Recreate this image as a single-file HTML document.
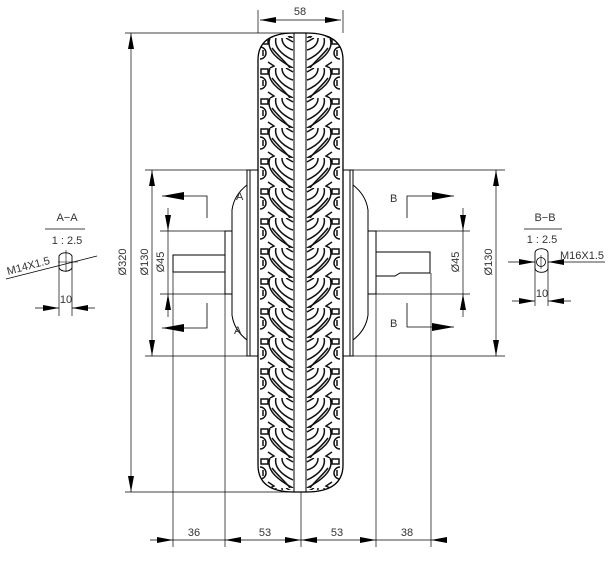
<!DOCTYPE html>
<html><head><style>body{margin:0;background:#fff}svg{display:block}text{font-family:"Liberation Sans Narrow","Liberation Sans",sans-serif;fill:#333;font-size:11px}</style></head>
<body>
<svg width="609" height="567" viewBox="0 0 609 567" xmlns="http://www.w3.org/2000/svg">
<defs>
<pattern id="tl" x="260" y="8" width="34" height="30" patternUnits="userSpaceOnUse">
<g fill="none" stroke="#111" stroke-width="1.5">
<path d="M0,9 A6,6 0 0 1 0,21"/>
<rect x="1" y="1" width="7" height="5"/>
<path d="M10,0 C6,10 14,20 33,30"/>
<path d="M16,0 C14,8 20,16 33,22"/>
<path d="M12,10 C18,18 26,24 30,30"/>
<path d="M22,0 C22,6 26,10 33,12"/>
<path d="M26,0 L33,4"/>
<path d="M8,24 L14,28 L10,30"/>
<path d="M3,12 L3,18"/>
</g>
</pattern>
<pattern id="tr" x="306" y="8" width="34" height="30" patternUnits="userSpaceOnUse">
<g fill="none" stroke="#111" stroke-width="1.5" transform="translate(34,0) scale(-1,1)">
<path d="M0,9 A6,6 0 0 1 0,21"/>
<rect x="1" y="1" width="7" height="5"/>
<path d="M10,0 C6,10 14,20 33,30"/>
<path d="M16,0 C14,8 20,16 33,22"/>
<path d="M12,10 C18,18 26,24 30,30"/>
<path d="M22,0 C22,6 26,10 33,12"/>
<path d="M26,0 L33,4"/>
<path d="M8,24 L14,28 L10,30"/>
<path d="M3,12 L3,18"/>
</g>
</pattern>
<marker id="ah" markerWidth="16" markerHeight="6" refX="16" refY="3" orient="auto" markerUnits="userSpaceOnUse"><path d="M0,0 L16,3 L0,6z" fill="#000"/></marker>
<marker id="as" markerWidth="16" markerHeight="6" refX="0" refY="3" orient="auto" markerUnits="userSpaceOnUse"><path d="M16,0 L0,3 L16,6z" fill="#000"/></marker>
<marker id="big" markerWidth="22" markerHeight="8" refX="22" refY="4" orient="auto" markerUnits="userSpaceOnUse"><path d="M0,0 L22,4 L0,8z" fill="#000"/></marker>
<clipPath id="tc"><path d="M258,60 Q258,33 294,33 L306,33 Q343,33 343,60 L343,465 Q343,492 306,492 L294,492 Q258,492 258,465 Z"/></clipPath>
</defs>
<g stroke="#000" stroke-width="1" fill="none">
<path d="M258,60 Q258,33 294,33 L306,33 Q343,33 343,60 L343,465 Q343,492 306,492 L294,492 Q258,492 258,465 Z" fill="#fff" stroke-width="1.3"/>
<g clip-path="url(#tc)">
<rect x="260" y="36" width="34" height="454" fill="url(#tl)" stroke="none"/>
<rect x="306" y="36" width="34" height="454" fill="url(#tr)" stroke="none"/>
</g>
<line x1="294" y1="33" x2="294" y2="492"/><line x1="306" y1="33" x2="306" y2="492"/>
<rect x="247" y="170" width="11" height="186"/>
<line x1="250" y1="170" x2="250" y2="356"/>
<path d="M247,185 Q234,195 232,210 L232,315 Q234,330 247,340"/>
<rect x="225" y="231" width="7" height="63"/>
<rect x="173" y="255" width="52" height="17"/>
<rect x="343" y="170" width="10" height="186"/>
<line x1="350" y1="170" x2="350" y2="356"/>
<path d="M353,185 Q366,195 368,210 L368,315 Q366,330 353,340"/>
<rect x="368" y="231" width="8" height="63"/>
<path d="M376,252 L430,252 L430,273 L400,273 L395,276 L376,276"/>
<line x1="258" y1="10" x2="258" y2="33" stroke-width=".7"/><line x1="343" y1="10" x2="343" y2="33" stroke-width=".7"/>
<line x1="260" y1="20" x2="341" y2="20" stroke-width=".7" marker-start="url(#as)" marker-end="url(#ah)"/>
<line x1="125" y1="33" x2="290" y2="33" stroke-width=".7"/><line x1="125" y1="492" x2="290" y2="492" stroke-width=".7"/>
<line x1="131" y1="33" x2="131" y2="492" stroke-width=".7" marker-start="url(#as)" marker-end="url(#ah)"/>
<line x1="145" y1="170" x2="250" y2="170" stroke-width=".7"/><line x1="145" y1="356" x2="250" y2="356" stroke-width=".7"/>
<line x1="152" y1="170" x2="152" y2="356" stroke-width=".7" marker-start="url(#as)" marker-end="url(#ah)"/>
<line x1="160" y1="231" x2="228" y2="231" stroke-width=".7"/><line x1="160" y1="294" x2="228" y2="294" stroke-width=".7"/>
<line x1="168" y1="208" x2="168" y2="231" stroke-width=".7" marker-end="url(#ah)"/>
<line x1="168" y1="317" x2="168" y2="294" stroke-width=".7" marker-end="url(#ah)"/>
<line x1="168" y1="231" x2="168" y2="294" stroke-width=".7"/>
<line x1="350" y1="170" x2="505" y2="170" stroke-width=".7"/><line x1="350" y1="356" x2="505" y2="356" stroke-width=".7"/>
<line x1="496" y1="170" x2="496" y2="356" stroke-width=".7" marker-start="url(#as)" marker-end="url(#ah)"/>
<line x1="372" y1="231" x2="470" y2="231" stroke-width=".7"/><line x1="372" y1="294" x2="470" y2="294" stroke-width=".7"/>
<line x1="463" y1="208" x2="463" y2="231" stroke-width=".7" marker-end="url(#ah)"/>
<line x1="463" y1="317" x2="463" y2="294" stroke-width=".7" marker-end="url(#ah)"/>
<line x1="463" y1="231" x2="463" y2="294" stroke-width=".7"/>
<polyline points="207,218 207,196 162,196" stroke-width=".8" marker-end="url(#big)"/>
<polyline points="207,303 207,328 162,328" stroke-width=".8" marker-end="url(#big)"/>
<polyline points="407,218 407,196 454,196" stroke-width=".8" marker-end="url(#big)"/>
<polyline points="407,303 407,327 454,327" stroke-width=".8" marker-end="url(#big)"/>
<g stroke-width=".7">
<line x1="173" y1="272" x2="173" y2="547"/><line x1="225" y1="294" x2="225" y2="547"/>
<line x1="301" y1="492" x2="301" y2="547"/><line x1="376" y1="276" x2="376" y2="547"/><line x1="431" y1="273" x2="431" y2="547"/>
<line x1="150" y1="540" x2="173" y2="540" marker-end="url(#ah)"/>
<line x1="173" y1="540" x2="225" y2="540"/>
<line x1="225" y1="540" x2="301" y2="540" marker-start="url(#as)" marker-end="url(#ah)"/>
<line x1="301" y1="540" x2="376" y2="540" marker-start="url(#as)" marker-end="url(#ah)"/>
<line x1="376" y1="540" x2="431" y2="540"/>
<line x1="447" y1="540" x2="431" y2="540" marker-end="url(#ah)"/>
</g>
<line x1="45" y1="229" x2="85" y2="229" stroke-width=".7"/>
<path d="M59,256 A7,5 0 0 1 72,256 L72,268 A7,5 0 0 1 59,268 Z" stroke-width=".9"/>
<line x1="66" y1="250" x2="66" y2="272" stroke-width=".6"/><line x1="58" y1="262" x2="78" y2="262" stroke-width=".6"/>
<line x1="59" y1="268" x2="59" y2="316" stroke-width=".7"/><line x1="72" y1="268" x2="72" y2="316" stroke-width=".7"/>
<line x1="35" y1="308" x2="59" y2="308" stroke-width=".7" marker-end="url(#ah)"/>
<line x1="95" y1="308" x2="72" y2="308" stroke-width=".7" marker-end="url(#ah)"/>
<line x1="6" y1="279" x2="97" y2="256" stroke-width=".7"/>
<line x1="524" y1="229" x2="562" y2="229" stroke-width=".7"/>
<path d="M535,253 A6,4 0 0 1 548,253 L548,268 A6,4 0 0 1 535,268 Z" stroke-width=".9"/>
<circle cx="541" cy="262" r="4.5" stroke-width=".8"/>
<line x1="541" y1="255" x2="541" y2="269" stroke-width=".6"/>
<line x1="508" y1="262" x2="535" y2="262" stroke-width=".7" marker-end="url(#ah)"/>
<line x1="605" y1="262" x2="548" y2="262" stroke-width=".7" marker-end="url(#ah)"/>
<line x1="535" y1="268" x2="535" y2="306" stroke-width=".7"/><line x1="548" y1="268" x2="548" y2="306" stroke-width=".7"/>
<line x1="512" y1="301" x2="535" y2="301" stroke-width=".7" marker-end="url(#ah)"/>
<line x1="571" y1="301" x2="548" y2="301" stroke-width=".7" marker-end="url(#ah)"/>
</g>
<text x="300" y="15" text-anchor="middle">58</text>
<text transform="translate(126,262) rotate(-90)" text-anchor="middle">Ø320</text>
<text transform="translate(148,262) rotate(-90)" text-anchor="middle">Ø130</text>
<text transform="translate(164,262) rotate(-90)" text-anchor="middle">Ø45</text>
<text transform="translate(459,262) rotate(-90)" text-anchor="middle">Ø45</text>
<text transform="translate(492,262) rotate(-90)" text-anchor="middle">Ø130</text>
<text x="236" y="200" font-size="9">A</text><text x="234" y="334" font-size="9">A</text>
<text x="390" y="202">B</text><text x="390" y="327">B</text>
<text x="194" y="536" text-anchor="middle">36</text>
<text x="265" y="536" text-anchor="middle">53</text>
<text x="337" y="536" text-anchor="middle">53</text>
<text x="407" y="536" text-anchor="middle">38</text>
<text x="67" y="221" text-anchor="middle">A−A</text>
<text x="67" y="244" text-anchor="middle">1 : 2.5</text>
<text x="66" y="303" text-anchor="middle">10</text>
<text transform="translate(8,275) rotate(-15)">M14X1.5</text>
<text x="545" y="221" text-anchor="middle">B−B</text>
<text x="542" y="243" text-anchor="middle">1 : 2.5</text>
<text x="560" y="259">M16X1.5</text>
<text x="542" y="297" text-anchor="middle">10</text>
</svg>
</body></html>
